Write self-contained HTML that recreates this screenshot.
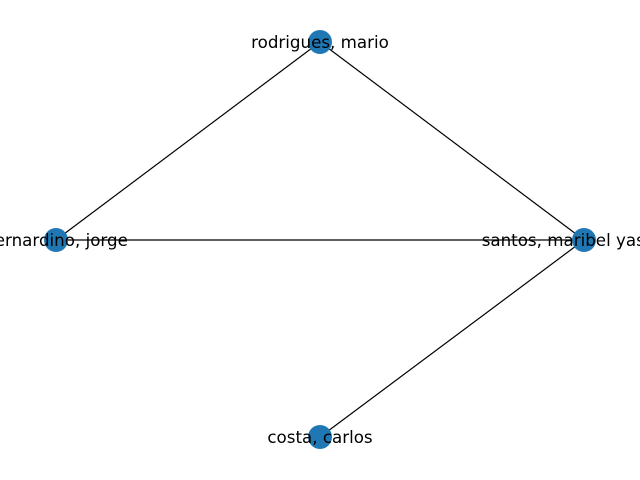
<!DOCTYPE html>
<html><head><meta charset="utf-8"><style>html,body{margin:0;padding:0;background:#fff;overflow:hidden}</style></head>
<body>
<svg width="640" height="480" xmlns="http://www.w3.org/2000/svg" style="display:block">
<g stroke="#000" stroke-width="1.2">
<line x1="320" y1="42" x2="56" y2="240"/>
<line x1="320" y1="42" x2="584" y2="240"/>
<line x1="56" y1="240" x2="584" y2="240"/>
<line x1="584" y1="240" x2="320" y2="437"/>
</g>
<g fill="#1f77b4">
<circle cx="320" cy="42" r="12"/>
<circle cx="56" cy="240" r="12"/>
<circle cx="584" cy="240" r="12"/>
<circle cx="320" cy="437" r="12"/>
</g>
<g font-family="DejaVu Sans, sans-serif" font-size="16.7" fill="#000" text-anchor="middle" dominant-baseline="central">
<text x="320" y="42">rodrigues, mario</text>
<text x="56" y="240">bernardino, jorge</text>
<text x="579" y="240">santos, maribel yasmin</text>
<text x="320" y="437">costa, carlos</text>
</g>
</svg>
</body></html>
